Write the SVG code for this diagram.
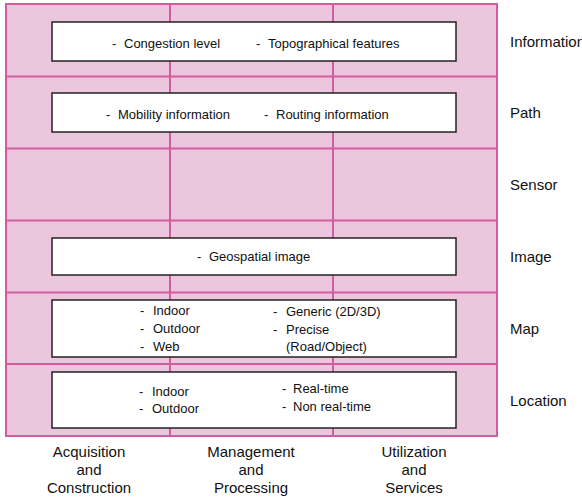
<svg xmlns="http://www.w3.org/2000/svg" width="582" height="500" viewBox="0 0 582 500">
<style>
.grid{stroke:#d05ca2;stroke-width:2;fill:none}
.box{fill:#fff;stroke:#222;stroke-width:1.5}
.t{font-family:"Liberation Sans",Arial,sans-serif;font-size:13px;fill:#111}
.lab{font-family:"Liberation Sans",Arial,sans-serif;font-size:15px;fill:#111}
.c{text-anchor:middle}
</style>
<rect x="0" y="0" width="582" height="500" fill="#fff"/>
<g id="grid">
<rect x="6" y="4" width="491" height="432" fill="#ecc6dd"/>
<g class="grid">
<rect x="6" y="4" width="491" height="432"/>
<line x1="170" y1="4" x2="170" y2="436"/>
<line x1="333" y1="4" x2="333" y2="436"/>
<line x1="6" y1="76.5" x2="497" y2="76.5"/>
<line x1="6" y1="148.5" x2="497" y2="148.5"/>
<line x1="6" y1="220.5" x2="497" y2="220.5"/>
<line x1="6" y1="292.5" x2="497" y2="292.5"/>
<line x1="6" y1="364" x2="497" y2="364"/>
</g>
</g>
<g id="information">
<rect class="box" x="52" y="22" width="404" height="39"/>
<text class="t" x="112" y="48">-</text><text class="t" x="124" y="48">Congestion level</text>
<text class="t" x="256" y="48">-</text><text class="t" x="268" y="48">Topographical features</text>
</g>
<g id="path">
<rect class="box" x="52" y="93" width="404" height="39"/>
<text class="t" x="106" y="119">-</text><text class="t" x="118" y="119">Mobility information</text>
<text class="t" x="264" y="119">-</text><text class="t" x="276" y="119">Routing information</text>
</g>
<g id="image">
<rect class="box" x="52" y="238" width="404" height="37"/>
<text class="t" x="197" y="261">-</text><text class="t" x="209" y="261">Geospatial image</text>
</g>
<g id="map">
<rect class="box" x="52" y="300" width="404" height="57"/>
<text class="t" x="140" y="315">-</text><text class="t" x="153" y="315">Indoor</text>
<text class="t" x="140" y="333">-</text><text class="t" x="153" y="333">Outdoor</text>
<text class="t" x="140" y="351">-</text><text class="t" x="153" y="351">Web</text>
<text class="t" x="273" y="316">-</text><text class="t" x="286" y="316">Generic (2D/3D)</text>
<text class="t" x="273" y="334">-</text><text class="t" x="286" y="334">Precise</text>
<text class="t" x="286" y="351">(Road/Object)</text>
</g>
<g id="location">
<rect class="box" x="52" y="372" width="404" height="56"/>
<text class="t" x="139" y="396">-</text><text class="t" x="152" y="396">Indoor</text>
<text class="t" x="139" y="413">-</text><text class="t" x="152" y="413">Outdoor</text>
<text class="t" x="282" y="393">-</text><text class="t" x="293" y="393">Real-time</text>
<text class="t" x="282" y="411">-</text><text class="t" x="293" y="411">Non real-time</text>
</g>
<g id="row-labels">
<text class="lab" x="510" y="47">Information</text>
<text class="lab" x="510" y="118">Path</text>
<text class="lab" x="510" y="190">Sensor</text>
<text class="lab" x="510" y="262">Image</text>
<text class="lab" x="510" y="334">Map</text>
<text class="lab" x="510" y="406">Location</text>
</g>
<g id="column-labels">
<text class="lab c" x="89" y="457">Acquisition</text>
<text class="lab c" x="89" y="475">and</text>
<text class="lab c" x="89" y="493">Construction</text>
<text class="lab c" x="251" y="457">Management</text>
<text class="lab c" x="251" y="475">and</text>
<text class="lab c" x="251" y="493">Processing</text>
<text class="lab c" x="414" y="457">Utilization</text>
<text class="lab c" x="414" y="475">and</text>
<text class="lab c" x="414" y="493">Services</text>
</g>
</svg>
